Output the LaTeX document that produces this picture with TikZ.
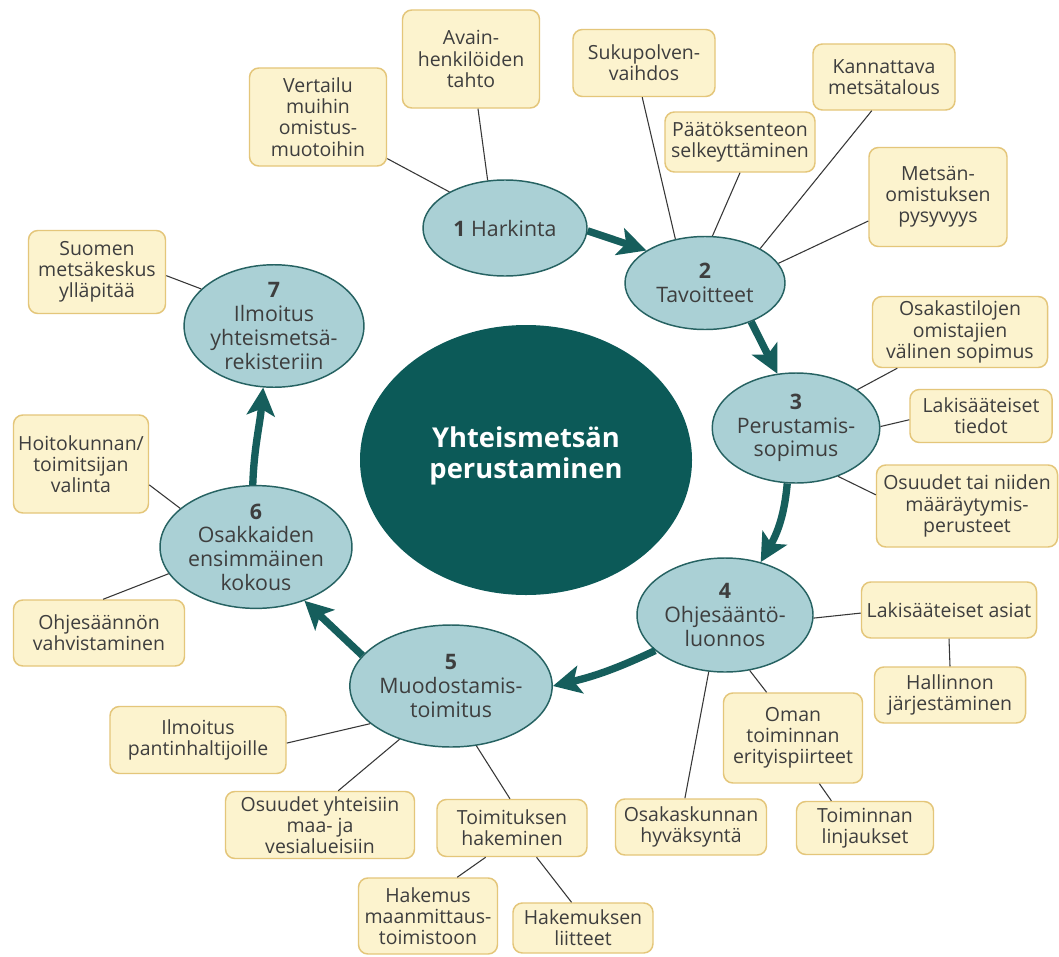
\documentclass[tikz,border=0pt]{standalone}
\usepackage{fontspec}
\setmainfont{Open Sans}
\usetikzlibrary{shapes.geometric,arrows.meta}
\definecolor{ellfill}{RGB}{170,208,213}
\definecolor{elldraw}{RGB}{38,98,98}
\definecolor{boxfill}{RGB}{252,243,206}
\definecolor{boxdraw}{RGB}{228,198,122}
\definecolor{txt}{RGB}{62,62,62}
\definecolor{linec}{RGB}{55,55,55}
\definecolor{arrowc}{RGB}{22,94,92}
\definecolor{hubc}{RGB}{12,90,88}
\begin{document}
\begin{tikzpicture}[x=0.75pt,y=-0.75pt,
  ell/.style 2 args={ellipse, draw=elldraw, line width=1.1pt, fill=ellfill,
    minimum width=#1*0.75pt, minimum height=#2*0.75pt, inner sep=0pt,
    align=center, font=\fontsize{16}{17.8}\selectfont, text=txt},
  box/.style 2 args={rectangle, rounded corners=7pt, draw=boxdraw, line width=1.1pt,
    fill=boxfill, minimum width=#1*0.75pt, minimum height=#2*0.75pt, inner sep=0pt,
    align=center, font=\fontsize{14.6}{15.9}\selectfont, text=txt},
  link/.style={draw=linec, line width=0.8pt},
  flow/.style={draw=arrowc, line width=5.5pt, -{Stealth[length=21pt,width=21pt,inset=5pt]}},
]
\fill[white] (0,0) rectangle (1059,956);
\useasboundingbox (0,0) rectangle (1059,956);

% hub
\node[ellipse, fill=hubc, minimum width=332*0.75pt, minimum height=270*0.75pt, inner sep=0pt] (hub) at (526,460) {};
\node[text=white, font=\fontsize{20.5}{23.5}\selectfont\bfseries, align=center] (hubt) at (526,456) {Yhteismetsän\\perustaminen};

% steps
\node[ell={164}{96}] (e1) at (505,228) {\textbf{1} Harkinta};
\node[ell={160}{93}] (e2) at (705,283) {\textbf{2}\\Tavoitteet};
\node[ell={158}{110}] (e3) at (796,428) {\textbf{3}\\Perustamis-\\sopimus};
\node[ell={176}{114}] (e4) at (725,615) {\textbf{4}\\Ohjesääntö-\\luonnos};
\node[ell={186}{122}] (e5) at (451,686) {\textbf{5}\\Muodostamis-\\toimitus};
\node[ell={180}{114}] (e6) at (256,547) {\textbf{6}\\Osakkaiden\\ensimmäinen\\kokous};
\node[ell={158}{114}] (e7) at (274,326) {\textbf{7}\\Ilmoitus\\yhteismetsä-\\rekisteriin};

% boxes
\node[box={137}{98}] (avain) at (471,59) {Avain-\\henkilöiden\\tahto};
\node[box={137}{98}] (vert) at (318,117) {Vertailu\\muihin\\omistus-\\muotoihin};
\node[box={142}{67}] (suku) at (644,63) {Sukupolven-\\vaihdos};
\node[box={150}{60}] (paat) at (740,142) {Päätöksenteon\\selkeyttäminen};
\node[box={142}{66}] (kann) at (884,77) {Kannattava\\metsätalous};
\node[box={138}{99}] (mets) at (938,197) {Metsän-\\omistuksen\\pysyvyys};
\node[box={137}{83}] (suom) at (97,272) {Suomen\\metsäkeskus\\ylläpitää};
\node[box={135}{98}] (hoit) at (81,464) {Hoitokunnan/\\toimitsijan\\valinta};
\node[box={171}{66}] (ohje) at (99,633) {Ohjesäännön\\vahvistaminen};
\node[box={176}{67}] (ilmp) at (198,740) {Ilmoitus\\pantinhaltijoille};
\node[box={189}{67}] (osyh) at (320,825) {Osuudet yhteisiin\\maa- ja\\vesialueisiin};
\node[box={150}{57}] (toim) at (512,828) {Toimituksen\\hakeminen};
\node[box={139}{76}] (hake) at (428,916) {Hakemus\\maanmittaus-\\toimistoon};
\node[box={140}{50}] (hlii) at (583,928) {Hakemuksen\\liitteet};
\node[box={151}{56}] (osak) at (691,827) {Osakaskunnan\\hyväksyntä};
\node[box={137}{53}] (toil) at (865,828) {Toiminnan\\linjaukset};
\node[box={139}{90}] (oman) at (793,738) {Oman\\toiminnan\\erityispiirteet};
\node[box={151}{56}] (hall) at (950,695) {Hallinnon\\järjestäminen};
\node[box={175}{56}] (laka) at (949,610) {Lakisääteiset asiat};
\node[box={181}{82}] (osua) at (967,506) {Osuudet tai niiden\\määräytymis-\\perusteet};
\node[box={142}{53}] (lakt) at (981,416) {Lakisääteiset\\tiedot};
\node[box={175}{71}] (osti) at (960,332) {Osakastilojen\\omistajien\\välinen sopimus};

% connectors
\draw[link] (vert.-31) -- (e1.147);
\draw[link] (avain.-82) -- (e1.110);
\draw[link] (suku.-93) -- (e2.124);
\draw[link] (paat.south) -- (e2.81);
\draw[link] (kann.-110) -- (e2.32);
\draw[link] (mets.199) -- (e2.15);
\draw[link] (suom.-3) -- (e7.153);
\draw[link] (hoit.-17) -- (e6.153);
\draw[link] (ohje.83) -- (e6.197);
\draw[link] (ilmp.-2) -- (e5.205);
\draw[link] (osyh.62) -- (e5.226);
\draw[link] (toim.94) -- (e5.-67);
\draw[link] (hake.53) -- (toim.228);
\draw[link] (hlii.114) -- (toim.-50);
\draw[link] (osak.102) -- (e4.254);
\draw[link] (oman.120) -- (e4.-66);
\draw[link] (oman.-60) -- (toil.141);
\draw[link] (laka.182) -- (e4.-2);
\draw[link] (laka.south) -- (hall.north);
\draw[link] (osti.210) -- (e3.32);
\draw[link] (lakt.183) -- (e3.1);
\draw[link] (osua.173) -- (e3.-49);

% flow arrows
\draw[flow] (e1.-2) -- (e2.151);
\draw[flow] (e2.-40) -- (e3.109);
\draw[flow] (e3.261) to[out=265,in=60] (e4.56);
\draw[flow] (e4.207) to[bend left=6] (e5.east);
\draw[flow] (e5.161) -- (e6.-48);
\draw[flow] (e6.93) to[out=88,in=-95] (e7.-100);
\end{tikzpicture}
\end{document}
